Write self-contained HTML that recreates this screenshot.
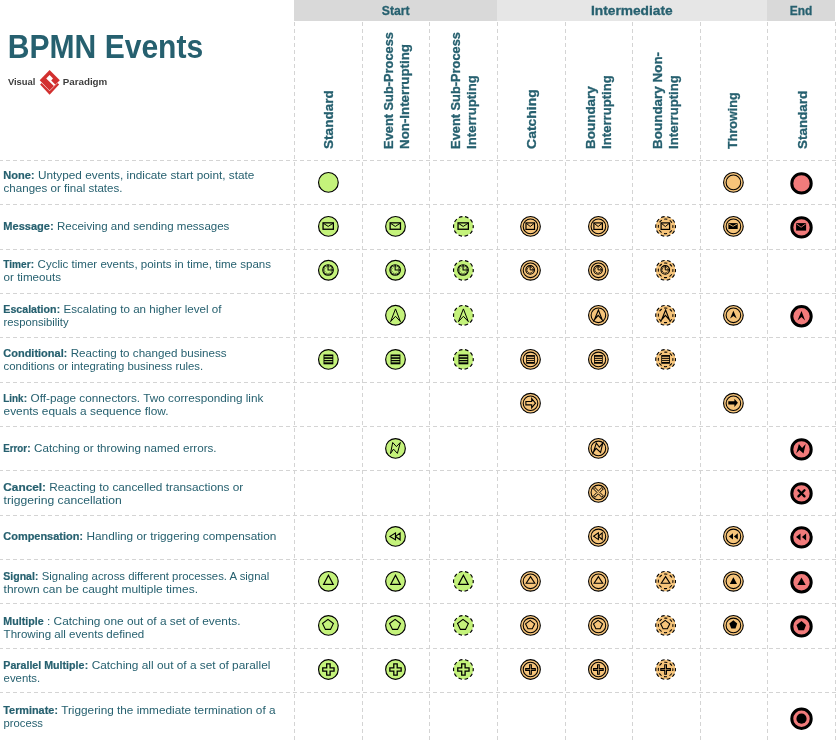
<!DOCTYPE html>
<html><head><meta charset="utf-8"><style>
html,body{margin:0;padding:0;background:#fff;}
body{width:836px;height:741px;overflow:hidden;}
svg{display:block;will-change:transform;font-family:"Liberation Sans",sans-serif;}
</style></head><body>
<svg width="836" height="741" viewBox="0 0 836 741">
<rect x="294" y="0" width="203" height="21" fill="#d9d9d9"/>
<rect x="497" y="0" width="270" height="21" fill="#e6e6e6"/>
<rect x="767" y="0" width="68" height="21" fill="#d9d9d9"/>
<line x1="294.5" y1="22" x2="294.5" y2="741" stroke="#d4d4d4" stroke-width="1" stroke-dasharray="4 3"/>
<line x1="362.5" y1="22" x2="362.5" y2="741" stroke="#d4d4d4" stroke-width="1" stroke-dasharray="4 3"/>
<line x1="429.5" y1="22" x2="429.5" y2="741" stroke="#d4d4d4" stroke-width="1" stroke-dasharray="4 3"/>
<line x1="497.5" y1="22" x2="497.5" y2="741" stroke="#d4d4d4" stroke-width="1" stroke-dasharray="4 3"/>
<line x1="565.5" y1="22" x2="565.5" y2="741" stroke="#d4d4d4" stroke-width="1" stroke-dasharray="4 3"/>
<line x1="632.5" y1="22" x2="632.5" y2="741" stroke="#d4d4d4" stroke-width="1" stroke-dasharray="4 3"/>
<line x1="700.5" y1="22" x2="700.5" y2="741" stroke="#d4d4d4" stroke-width="1" stroke-dasharray="4 3"/>
<line x1="767.5" y1="22" x2="767.5" y2="741" stroke="#d4d4d4" stroke-width="1" stroke-dasharray="4 3"/>
<line x1="835.5" y1="22" x2="835.5" y2="741" stroke="#d4d4d4" stroke-width="1" stroke-dasharray="4 3"/>
<line x1="0" y1="160.5" x2="836" y2="160.5" stroke="#d4d4d4" stroke-width="1" stroke-dasharray="4 3" stroke-dashoffset="1"/>
<line x1="0" y1="204.5" x2="836" y2="204.5" stroke="#d4d4d4" stroke-width="1" stroke-dasharray="4 3" stroke-dashoffset="1"/>
<line x1="0" y1="249.5" x2="836" y2="249.5" stroke="#d4d4d4" stroke-width="1" stroke-dasharray="4 3" stroke-dashoffset="1"/>
<line x1="0" y1="293.5" x2="836" y2="293.5" stroke="#d4d4d4" stroke-width="1" stroke-dasharray="4 3" stroke-dashoffset="1"/>
<line x1="0" y1="337.5" x2="836" y2="337.5" stroke="#d4d4d4" stroke-width="1" stroke-dasharray="4 3" stroke-dashoffset="1"/>
<line x1="0" y1="382.5" x2="836" y2="382.5" stroke="#d4d4d4" stroke-width="1" stroke-dasharray="4 3" stroke-dashoffset="1"/>
<line x1="0" y1="426.5" x2="836" y2="426.5" stroke="#d4d4d4" stroke-width="1" stroke-dasharray="4 3" stroke-dashoffset="1"/>
<line x1="0" y1="470.5" x2="836" y2="470.5" stroke="#d4d4d4" stroke-width="1" stroke-dasharray="4 3" stroke-dashoffset="1"/>
<line x1="0" y1="515.5" x2="836" y2="515.5" stroke="#d4d4d4" stroke-width="1" stroke-dasharray="4 3" stroke-dashoffset="1"/>
<line x1="0" y1="559.5" x2="836" y2="559.5" stroke="#d4d4d4" stroke-width="1" stroke-dasharray="4 3" stroke-dashoffset="1"/>
<line x1="0" y1="603.5" x2="836" y2="603.5" stroke="#d4d4d4" stroke-width="1" stroke-dasharray="4 3" stroke-dashoffset="1"/>
<line x1="0" y1="648.5" x2="836" y2="648.5" stroke="#d4d4d4" stroke-width="1" stroke-dasharray="4 3" stroke-dashoffset="1"/>
<line x1="0" y1="692.5" x2="836" y2="692.5" stroke="#d4d4d4" stroke-width="1" stroke-dasharray="4 3" stroke-dashoffset="1"/>
<text x="381.8" y="15.1" font-size="13" font-weight="bold" fill="#26606f" stroke="#26606f" stroke-width="0.3" textLength="27.8" lengthAdjust="spacingAndGlyphs">Start</text>
<text x="591.0" y="15.1" font-size="13" font-weight="bold" fill="#26606f" stroke="#26606f" stroke-width="0.3" textLength="81.7" lengthAdjust="spacingAndGlyphs">Intermediate</text>
<text x="789.8" y="15.1" font-size="13" font-weight="bold" fill="#26606f" stroke="#26606f" stroke-width="0.3" textLength="22.6" lengthAdjust="spacingAndGlyphs">End</text>
<text x="332.7" y="148.9" transform="rotate(-90 332.7 148.9)" font-size="12.4" font-weight="bold" fill="#26606f" stroke="#26606f" stroke-width="0.3" textLength="58.6" lengthAdjust="spacingAndGlyphs">Standard</text>
<text x="392.8" y="148.9" transform="rotate(-90 392.8 148.9)" font-size="12.4" font-weight="bold" fill="#26606f" stroke="#26606f" stroke-width="0.3" textLength="116.8" lengthAdjust="spacingAndGlyphs">Event Sub-Process</text>
<text x="408.7" y="148.9" transform="rotate(-90 408.7 148.9)" font-size="12.4" font-weight="bold" fill="#26606f" stroke="#26606f" stroke-width="0.3" textLength="104.9" lengthAdjust="spacingAndGlyphs">Non-Interrupting</text>
<text x="460.0" y="148.9" transform="rotate(-90 460.0 148.9)" font-size="12.4" font-weight="bold" fill="#26606f" stroke="#26606f" stroke-width="0.3" textLength="116.8" lengthAdjust="spacingAndGlyphs">Event Sub-Process</text>
<text x="475.9" y="148.9" transform="rotate(-90 475.9 148.9)" font-size="12.4" font-weight="bold" fill="#26606f" stroke="#26606f" stroke-width="0.3" textLength="73.7" lengthAdjust="spacingAndGlyphs">Interrupting</text>
<text x="535.8" y="148.9" transform="rotate(-90 535.8 148.9)" font-size="12.4" font-weight="bold" fill="#26606f" stroke="#26606f" stroke-width="0.3" textLength="59.7" lengthAdjust="spacingAndGlyphs">Catching</text>
<text x="594.6" y="148.9" transform="rotate(-90 594.6 148.9)" font-size="12.4" font-weight="bold" fill="#26606f" stroke="#26606f" stroke-width="0.3" textLength="62.7" lengthAdjust="spacingAndGlyphs">Boundary</text>
<text x="611.3" y="148.9" transform="rotate(-90 611.3 148.9)" font-size="12.4" font-weight="bold" fill="#26606f" stroke="#26606f" stroke-width="0.3" textLength="73.7" lengthAdjust="spacingAndGlyphs">Interrupting</text>
<text x="662.1" y="148.9" transform="rotate(-90 662.1 148.9)" font-size="12.4" font-weight="bold" fill="#26606f" stroke="#26606f" stroke-width="0.3" textLength="97.0" lengthAdjust="spacingAndGlyphs">Boundary Non-</text>
<text x="677.9" y="148.9" transform="rotate(-90 677.9 148.9)" font-size="12.4" font-weight="bold" fill="#26606f" stroke="#26606f" stroke-width="0.3" textLength="73.7" lengthAdjust="spacingAndGlyphs">Interrupting</text>
<text x="737.5" y="148.9" transform="rotate(-90 737.5 148.9)" font-size="12.4" font-weight="bold" fill="#26606f" stroke="#26606f" stroke-width="0.3" textLength="56.5" lengthAdjust="spacingAndGlyphs">Throwing</text>
<text x="807.2" y="148.9" transform="rotate(-90 807.2 148.9)" font-size="12.4" font-weight="bold" fill="#26606f" stroke="#26606f" stroke-width="0.3" textLength="58.0" lengthAdjust="spacingAndGlyphs">Standard</text>
<text x="7.8" y="57.7" font-size="32.6" font-weight="bold" fill="#26606f" textLength="195.4" lengthAdjust="spacingAndGlyphs">BPMN Events</text>
<text x="7.9" y="84.8" font-size="9.9" font-weight="bold" fill="#3d3d3d" textLength="27.6" lengthAdjust="spacingAndGlyphs">Visual</text>
<text x="62.7" y="84.8" font-size="9.9" font-weight="bold" fill="#3d3d3d" textLength="44.6" lengthAdjust="spacingAndGlyphs">Paradigm</text>
<g fill="#d2302f"><path d="M49.6 70.1 L59.8 80.3 L49.6 90.5 L39.7 80.3 Z"/><path d="M40.1 84.4 L41.6 82.9 L49.6 90.9 L57.6 82.9 L59.1 84.4 L49.6 94.7 Z"/></g><path d="M49.6 75.1 L53.0 78.6 L51.2 80.4 L55.2 84.6 L53.9 85.9 L46.2 78.6 Z" fill="#fff"/>
<text x="3.3" y="178.6" font-size="10.6" font-weight="bold" fill="#26606f" stroke="#26606f" stroke-width="0.2" textLength="27.6" lengthAdjust="spacingAndGlyphs">None</text>
<text x="30.8" y="178.6" font-size="10.6" fill="#26606f" textLength="223.6" lengthAdjust="spacingAndGlyphs" xml:space="preserve"><tspan font-weight="bold">:</tspan> Untyped events, indicate start point, state</text>
<text x="3.6" y="191.7" font-size="10.6" fill="#26606f" textLength="118.9" lengthAdjust="spacingAndGlyphs">changes or final states.</text>
<text x="3.3" y="229.9" font-size="10.6" font-weight="bold" fill="#26606f" stroke="#26606f" stroke-width="0.2" textLength="46.7" lengthAdjust="spacingAndGlyphs">Message</text>
<text x="49.9" y="229.9" font-size="10.6" fill="#26606f" textLength="179.5" lengthAdjust="spacingAndGlyphs" xml:space="preserve"><tspan font-weight="bold">:</tspan> Receiving and sending messages</text>
<text x="3.3" y="267.8" font-size="10.6" font-weight="bold" fill="#26606f" stroke="#26606f" stroke-width="0.2" textLength="27.3" lengthAdjust="spacingAndGlyphs">Timer</text>
<text x="30.5" y="267.8" font-size="10.6" fill="#26606f" textLength="240.5" lengthAdjust="spacingAndGlyphs" xml:space="preserve"><tspan font-weight="bold">:</tspan> Cyclic timer events, points in time, time spans</text>
<text x="3.6" y="280.9" font-size="10.6" fill="#26606f" textLength="57.4" lengthAdjust="spacingAndGlyphs">or timeouts</text>
<text x="3.3" y="312.7" font-size="10.6" font-weight="bold" fill="#26606f" stroke="#26606f" stroke-width="0.2" textLength="53.2" lengthAdjust="spacingAndGlyphs">Escalation</text>
<text x="56.4" y="312.7" font-size="10.6" fill="#26606f" textLength="165.1" lengthAdjust="spacingAndGlyphs" xml:space="preserve"><tspan font-weight="bold">:</tspan> Escalating to an higher level of</text>
<text x="3.6" y="325.8" font-size="10.6" fill="#26606f" textLength="65.0" lengthAdjust="spacingAndGlyphs">responsibility</text>
<text x="3.3" y="356.7" font-size="10.6" font-weight="bold" fill="#26606f" stroke="#26606f" stroke-width="0.2" textLength="60.4" lengthAdjust="spacingAndGlyphs">Conditional</text>
<text x="63.6" y="356.7" font-size="10.6" fill="#26606f" textLength="163.1" lengthAdjust="spacingAndGlyphs" xml:space="preserve"><tspan font-weight="bold">:</tspan> Reacting to changed business</text>
<text x="3.6" y="369.8" font-size="10.6" fill="#26606f" textLength="199.6" lengthAdjust="spacingAndGlyphs">conditions or integrating business rules.</text>
<text x="3.3" y="401.7" font-size="10.6" font-weight="bold" fill="#26606f" stroke="#26606f" stroke-width="0.2" textLength="20.2" lengthAdjust="spacingAndGlyphs">Link</text>
<text x="23.4" y="401.7" font-size="10.6" fill="#26606f" textLength="240.0" lengthAdjust="spacingAndGlyphs" xml:space="preserve"><tspan font-weight="bold">:</tspan> Off-page connectors. Two corresponding link</text>
<text x="3.6" y="414.8" font-size="10.6" fill="#26606f" textLength="164.9" lengthAdjust="spacingAndGlyphs">events equals a sequence flow.</text>
<text x="3.3" y="451.8" font-size="10.6" font-weight="bold" fill="#26606f" stroke="#26606f" stroke-width="0.2" textLength="23.8" lengthAdjust="spacingAndGlyphs">Error</text>
<text x="27.0" y="451.8" font-size="10.6" fill="#26606f" textLength="189.6" lengthAdjust="spacingAndGlyphs" xml:space="preserve"><tspan font-weight="bold">:</tspan> Catching or throwing named errors.</text>
<text x="3.3" y="490.9" font-size="10.6" font-weight="bold" fill="#26606f" stroke="#26606f" stroke-width="0.2" textLength="38.8" lengthAdjust="spacingAndGlyphs">Cancel</text>
<text x="42.0" y="490.9" font-size="10.6" fill="#26606f" textLength="201.3" lengthAdjust="spacingAndGlyphs" xml:space="preserve"><tspan font-weight="bold">:</tspan> Reacting to cancelled transactions or</text>
<text x="3.6" y="504.0" font-size="10.6" fill="#26606f" textLength="118.1" lengthAdjust="spacingAndGlyphs">triggering cancellation</text>
<text x="3.3" y="539.9" font-size="10.6" font-weight="bold" fill="#26606f" stroke="#26606f" stroke-width="0.2" textLength="76.1" lengthAdjust="spacingAndGlyphs">Compensation</text>
<text x="79.3" y="539.9" font-size="10.6" fill="#26606f" textLength="197.0" lengthAdjust="spacingAndGlyphs" xml:space="preserve"><tspan font-weight="bold">:</tspan> Handling or triggering compensation</text>
<text x="3.3" y="579.6" font-size="10.6" font-weight="bold" fill="#26606f" stroke="#26606f" stroke-width="0.2" textLength="31.6" lengthAdjust="spacingAndGlyphs">Signal</text>
<text x="34.8" y="579.6" font-size="10.6" fill="#26606f" textLength="234.5" lengthAdjust="spacingAndGlyphs" xml:space="preserve"><tspan font-weight="bold">:</tspan> Signaling across different processes. A signal</text>
<text x="3.6" y="592.7" font-size="10.6" fill="#26606f" textLength="194.4" lengthAdjust="spacingAndGlyphs">thrown can be caught multiple times.</text>
<text x="3.3" y="624.5" font-size="10.6" font-weight="bold" fill="#26606f" stroke="#26606f" stroke-width="0.2" textLength="40.3" lengthAdjust="spacingAndGlyphs">Multiple</text>
<text x="43.7" y="624.5" font-size="10.6" fill="#26606f" textLength="196.8" lengthAdjust="spacingAndGlyphs" xml:space="preserve"> : Catching one out of a set of events.</text>
<text x="3.6" y="637.6" font-size="10.6" fill="#26606f" textLength="140.7" lengthAdjust="spacingAndGlyphs">Throwing all events defined</text>
<text x="3.3" y="668.6" font-size="10.6" font-weight="bold" fill="#26606f" stroke="#26606f" stroke-width="0.2" textLength="81.2" lengthAdjust="spacingAndGlyphs">Parallel Multiple</text>
<text x="84.4" y="668.6" font-size="10.6" fill="#26606f" textLength="186.0" lengthAdjust="spacingAndGlyphs" xml:space="preserve"><tspan font-weight="bold">:</tspan> Catching all out of a set of parallel</text>
<text x="3.6" y="681.7" font-size="10.6" fill="#26606f" textLength="36.6" lengthAdjust="spacingAndGlyphs">events.</text>
<text x="3.3" y="713.7" font-size="10.6" font-weight="bold" fill="#26606f" stroke="#26606f" stroke-width="0.2" textLength="51.0" lengthAdjust="spacingAndGlyphs">Terminate</text>
<text x="54.2" y="713.7" font-size="10.6" fill="#26606f" textLength="221.3" lengthAdjust="spacingAndGlyphs" xml:space="preserve"><tspan font-weight="bold">:</tspan> Triggering the immediate termination of a</text>
<text x="3.6" y="726.8" font-size="10.6" fill="#26606f" textLength="39.4" lengthAdjust="spacingAndGlyphs">process</text>
<circle cx="328.4" cy="182.4" r="9.85" fill="#c4f27b" stroke="#000" stroke-width="1.15"/>

<circle cx="733.4" cy="182.4" r="9.85" fill="#f6c47a" stroke="#000" stroke-width="1.1"/><circle cx="733.4" cy="182.4" r="7.3" fill="none" stroke="#000" stroke-width="1.05"/>

<circle cx="801.5" cy="183.4" r="9.7" fill="#f27b7b" stroke="#000" stroke-width="3"/>

<circle cx="328.4" cy="226.4" r="9.85" fill="#c4f27b" stroke="#000" stroke-width="1.15"/>
<rect x="323.05" y="222.85" width="10.30" height="6.40" fill="none" stroke="#000" stroke-width="1.3"/><polyline points="323.40,223.30 328.20,226.44 333.00,223.30" fill="none" stroke="#000" stroke-width="1"/>
<circle cx="395.5" cy="226.4" r="9.85" fill="#c4f27b" stroke="#000" stroke-width="1.15"/>
<rect x="390.15" y="222.85" width="10.30" height="6.40" fill="none" stroke="#000" stroke-width="1.3"/><polyline points="390.50,223.30 395.30,226.44 400.10,223.30" fill="none" stroke="#000" stroke-width="1"/>
<circle cx="463.4" cy="226.4" r="9.85" fill="#c4f27b" stroke="#000" stroke-width="1.15" stroke-dasharray="3.6 2.59" stroke-dashoffset="1.8"/>
<rect x="458.05" y="222.85" width="10.30" height="6.40" fill="none" stroke="#000" stroke-width="1.3"/><polyline points="458.40,223.30 463.20,226.44 468.00,223.30" fill="none" stroke="#000" stroke-width="1"/>
<circle cx="530.5" cy="226.4" r="9.85" fill="#f6c47a" stroke="#000" stroke-width="1.1"/><circle cx="530.5" cy="226.4" r="7.3" fill="none" stroke="#000" stroke-width="1.05"/>
<rect x="526.00" y="222.90" width="8.50" height="6.50" fill="none" stroke="#000" stroke-width="1.2"/><polyline points="526.40,223.40 530.25,226.53 534.10,223.40" fill="none" stroke="#000" stroke-width="1"/>
<circle cx="598.4" cy="226.4" r="9.85" fill="#f6c47a" stroke="#000" stroke-width="1.1"/><circle cx="598.4" cy="226.4" r="7.3" fill="none" stroke="#000" stroke-width="1.05"/>
<rect x="593.90" y="222.90" width="8.50" height="6.50" fill="none" stroke="#000" stroke-width="1.2"/><polyline points="594.30,223.40 598.15,226.53 602.00,223.40" fill="none" stroke="#000" stroke-width="1"/>
<circle cx="665.6" cy="226.4" r="9.85" fill="#f6c47a" stroke="#000" stroke-width="1.1" stroke-dasharray="3.6 2.59" stroke-dashoffset="1.8"/><circle cx="665.6" cy="226.4" r="7.3" fill="none" stroke="#000" stroke-width="1.05" stroke-dasharray="3.1 2.63" stroke-dashoffset="1.55"/>
<rect x="661.10" y="222.90" width="8.50" height="6.50" fill="none" stroke="#000" stroke-width="1.2"/><polyline points="661.50,223.40 665.35,226.53 669.20,223.40" fill="none" stroke="#000" stroke-width="1"/>
<circle cx="733.4" cy="226.4" r="9.85" fill="#f6c47a" stroke="#000" stroke-width="1.1"/><circle cx="733.4" cy="226.4" r="7.3" fill="none" stroke="#000" stroke-width="1.05"/>
<rect x="728.40" y="223.10" width="9.30" height="5.90" fill="#000"/><polyline points="728.70,223.90 733.05,226.34 737.40,223.90" fill="none" stroke="#f6c47a" stroke-width="0.85"/>
<circle cx="801.5" cy="227.4" r="9.7" fill="#f27b7b" stroke="#000" stroke-width="3"/>
<rect x="796.10" y="223.10" width="10.00" height="7.50" fill="#000"/><polyline points="796.40,223.90 801.10,227.22 805.80,223.90" fill="none" stroke="#f27b7b" stroke-width="0.85"/>
<circle cx="328.4" cy="270.3" r="9.85" fill="#c4f27b" stroke="#000" stroke-width="1.15"/>
<circle cx="328.04999999999995" cy="270.0" r="5.27" fill="none" stroke="#000" stroke-width="1.15"/><line x1="331.25" y1="270.00" x2="333.05" y2="270.00" stroke="#000" stroke-width="0.85"/><line x1="330.82" y1="271.60" x2="332.38" y2="272.50" stroke="#000" stroke-width="0.85"/><line x1="329.65" y1="272.77" x2="330.55" y2="274.33" stroke="#000" stroke-width="0.85"/><line x1="328.05" y1="273.20" x2="328.05" y2="275.00" stroke="#000" stroke-width="0.85"/><line x1="326.45" y1="272.77" x2="325.55" y2="274.33" stroke="#000" stroke-width="0.85"/><line x1="325.28" y1="271.60" x2="323.72" y2="272.50" stroke="#000" stroke-width="0.85"/><line x1="324.85" y1="270.00" x2="323.05" y2="270.00" stroke="#000" stroke-width="0.85"/><line x1="325.28" y1="268.40" x2="323.72" y2="267.50" stroke="#000" stroke-width="0.85"/><line x1="326.45" y1="267.23" x2="325.55" y2="265.67" stroke="#000" stroke-width="0.85"/><line x1="328.05" y1="266.80" x2="328.05" y2="265.00" stroke="#000" stroke-width="0.85"/><line x1="329.65" y1="267.23" x2="330.55" y2="265.67" stroke="#000" stroke-width="0.85"/><line x1="330.82" y1="268.40" x2="332.38" y2="267.50" stroke="#000" stroke-width="0.85"/><polyline points="328.05,265.10 328.05,270.00 332.95,270.00" fill="none" stroke="#000" stroke-width="1.05"/>
<circle cx="395.5" cy="270.3" r="9.85" fill="#c4f27b" stroke="#000" stroke-width="1.15"/>
<circle cx="395.15" cy="270.0" r="5.27" fill="none" stroke="#000" stroke-width="1.15"/><line x1="398.35" y1="270.00" x2="400.15" y2="270.00" stroke="#000" stroke-width="0.85"/><line x1="397.92" y1="271.60" x2="399.48" y2="272.50" stroke="#000" stroke-width="0.85"/><line x1="396.75" y1="272.77" x2="397.65" y2="274.33" stroke="#000" stroke-width="0.85"/><line x1="395.15" y1="273.20" x2="395.15" y2="275.00" stroke="#000" stroke-width="0.85"/><line x1="393.55" y1="272.77" x2="392.65" y2="274.33" stroke="#000" stroke-width="0.85"/><line x1="392.38" y1="271.60" x2="390.82" y2="272.50" stroke="#000" stroke-width="0.85"/><line x1="391.95" y1="270.00" x2="390.15" y2="270.00" stroke="#000" stroke-width="0.85"/><line x1="392.38" y1="268.40" x2="390.82" y2="267.50" stroke="#000" stroke-width="0.85"/><line x1="393.55" y1="267.23" x2="392.65" y2="265.67" stroke="#000" stroke-width="0.85"/><line x1="395.15" y1="266.80" x2="395.15" y2="265.00" stroke="#000" stroke-width="0.85"/><line x1="396.75" y1="267.23" x2="397.65" y2="265.67" stroke="#000" stroke-width="0.85"/><line x1="397.92" y1="268.40" x2="399.48" y2="267.50" stroke="#000" stroke-width="0.85"/><polyline points="395.15,265.10 395.15,270.00 400.05,270.00" fill="none" stroke="#000" stroke-width="1.05"/>
<circle cx="463.4" cy="270.3" r="9.85" fill="#c4f27b" stroke="#000" stroke-width="1.15" stroke-dasharray="3.6 2.59" stroke-dashoffset="1.8"/>
<circle cx="463.04999999999995" cy="270.0" r="5.27" fill="none" stroke="#000" stroke-width="1.15"/><line x1="466.25" y1="270.00" x2="468.05" y2="270.00" stroke="#000" stroke-width="0.85"/><line x1="465.82" y1="271.60" x2="467.38" y2="272.50" stroke="#000" stroke-width="0.85"/><line x1="464.65" y1="272.77" x2="465.55" y2="274.33" stroke="#000" stroke-width="0.85"/><line x1="463.05" y1="273.20" x2="463.05" y2="275.00" stroke="#000" stroke-width="0.85"/><line x1="461.45" y1="272.77" x2="460.55" y2="274.33" stroke="#000" stroke-width="0.85"/><line x1="460.28" y1="271.60" x2="458.72" y2="272.50" stroke="#000" stroke-width="0.85"/><line x1="459.85" y1="270.00" x2="458.05" y2="270.00" stroke="#000" stroke-width="0.85"/><line x1="460.28" y1="268.40" x2="458.72" y2="267.50" stroke="#000" stroke-width="0.85"/><line x1="461.45" y1="267.23" x2="460.55" y2="265.67" stroke="#000" stroke-width="0.85"/><line x1="463.05" y1="266.80" x2="463.05" y2="265.00" stroke="#000" stroke-width="0.85"/><line x1="464.65" y1="267.23" x2="465.55" y2="265.67" stroke="#000" stroke-width="0.85"/><line x1="465.82" y1="268.40" x2="467.38" y2="267.50" stroke="#000" stroke-width="0.85"/><polyline points="463.05,265.10 463.05,270.00 467.95,270.00" fill="none" stroke="#000" stroke-width="1.05"/>
<circle cx="530.5" cy="270.3" r="9.85" fill="#f6c47a" stroke="#000" stroke-width="1.1"/><circle cx="530.5" cy="270.3" r="7.3" fill="none" stroke="#000" stroke-width="1.05"/>
<circle cx="530.15" cy="269.90000000000003" r="4.30" fill="none" stroke="#000" stroke-width="1.1"/><line x1="532.65" y1="269.90" x2="534.20" y2="269.90" stroke="#000" stroke-width="0.8"/><line x1="532.32" y1="271.15" x2="533.66" y2="271.93" stroke="#000" stroke-width="0.8"/><line x1="531.40" y1="272.07" x2="532.17" y2="273.41" stroke="#000" stroke-width="0.8"/><line x1="530.15" y1="272.40" x2="530.15" y2="273.95" stroke="#000" stroke-width="0.8"/><line x1="528.90" y1="272.07" x2="528.12" y2="273.41" stroke="#000" stroke-width="0.8"/><line x1="527.98" y1="271.15" x2="526.64" y2="271.93" stroke="#000" stroke-width="0.8"/><line x1="527.65" y1="269.90" x2="526.10" y2="269.90" stroke="#000" stroke-width="0.8"/><line x1="527.98" y1="268.65" x2="526.64" y2="267.88" stroke="#000" stroke-width="0.8"/><line x1="528.90" y1="267.73" x2="528.12" y2="266.39" stroke="#000" stroke-width="0.8"/><line x1="530.15" y1="267.40" x2="530.15" y2="265.85" stroke="#000" stroke-width="0.8"/><line x1="531.40" y1="267.73" x2="532.17" y2="266.39" stroke="#000" stroke-width="0.8"/><line x1="532.32" y1="268.65" x2="533.66" y2="267.88" stroke="#000" stroke-width="0.8"/><polyline points="530.15,265.95 530.15,269.90 534.10,269.90" fill="none" stroke="#000" stroke-width="1.0"/>
<circle cx="598.4" cy="270.3" r="9.85" fill="#f6c47a" stroke="#000" stroke-width="1.1"/><circle cx="598.4" cy="270.3" r="7.3" fill="none" stroke="#000" stroke-width="1.05"/>
<circle cx="598.05" cy="269.90000000000003" r="4.30" fill="none" stroke="#000" stroke-width="1.1"/><line x1="600.55" y1="269.90" x2="602.10" y2="269.90" stroke="#000" stroke-width="0.8"/><line x1="600.22" y1="271.15" x2="601.56" y2="271.93" stroke="#000" stroke-width="0.8"/><line x1="599.30" y1="272.07" x2="600.07" y2="273.41" stroke="#000" stroke-width="0.8"/><line x1="598.05" y1="272.40" x2="598.05" y2="273.95" stroke="#000" stroke-width="0.8"/><line x1="596.80" y1="272.07" x2="596.02" y2="273.41" stroke="#000" stroke-width="0.8"/><line x1="595.88" y1="271.15" x2="594.54" y2="271.93" stroke="#000" stroke-width="0.8"/><line x1="595.55" y1="269.90" x2="594.00" y2="269.90" stroke="#000" stroke-width="0.8"/><line x1="595.88" y1="268.65" x2="594.54" y2="267.88" stroke="#000" stroke-width="0.8"/><line x1="596.80" y1="267.73" x2="596.02" y2="266.39" stroke="#000" stroke-width="0.8"/><line x1="598.05" y1="267.40" x2="598.05" y2="265.85" stroke="#000" stroke-width="0.8"/><line x1="599.30" y1="267.73" x2="600.07" y2="266.39" stroke="#000" stroke-width="0.8"/><line x1="600.22" y1="268.65" x2="601.56" y2="267.88" stroke="#000" stroke-width="0.8"/><polyline points="598.05,265.95 598.05,269.90 602.00,269.90" fill="none" stroke="#000" stroke-width="1.0"/>
<circle cx="665.6" cy="270.3" r="9.85" fill="#f6c47a" stroke="#000" stroke-width="1.1" stroke-dasharray="3.6 2.59" stroke-dashoffset="1.8"/><circle cx="665.6" cy="270.3" r="7.3" fill="none" stroke="#000" stroke-width="1.05" stroke-dasharray="3.1 2.63" stroke-dashoffset="1.55"/>
<circle cx="665.25" cy="269.90000000000003" r="4.30" fill="none" stroke="#000" stroke-width="1.1"/><line x1="667.75" y1="269.90" x2="669.30" y2="269.90" stroke="#000" stroke-width="0.8"/><line x1="667.42" y1="271.15" x2="668.76" y2="271.93" stroke="#000" stroke-width="0.8"/><line x1="666.50" y1="272.07" x2="667.27" y2="273.41" stroke="#000" stroke-width="0.8"/><line x1="665.25" y1="272.40" x2="665.25" y2="273.95" stroke="#000" stroke-width="0.8"/><line x1="664.00" y1="272.07" x2="663.23" y2="273.41" stroke="#000" stroke-width="0.8"/><line x1="663.08" y1="271.15" x2="661.74" y2="271.93" stroke="#000" stroke-width="0.8"/><line x1="662.75" y1="269.90" x2="661.20" y2="269.90" stroke="#000" stroke-width="0.8"/><line x1="663.08" y1="268.65" x2="661.74" y2="267.88" stroke="#000" stroke-width="0.8"/><line x1="664.00" y1="267.73" x2="663.23" y2="266.39" stroke="#000" stroke-width="0.8"/><line x1="665.25" y1="267.40" x2="665.25" y2="265.85" stroke="#000" stroke-width="0.8"/><line x1="666.50" y1="267.73" x2="667.27" y2="266.39" stroke="#000" stroke-width="0.8"/><line x1="667.42" y1="268.65" x2="668.76" y2="267.88" stroke="#000" stroke-width="0.8"/><polyline points="665.25,265.95 665.25,269.90 669.20,269.90" fill="none" stroke="#000" stroke-width="1.0"/>
<circle cx="395.5" cy="315.3" r="9.85" fill="#c4f27b" stroke="#000" stroke-width="1.15"/>
<polygon points="395.50,308.90 400.40,321.60 395.50,316.30 390.60,321.60" fill="none" stroke="#000" stroke-width="1.0" stroke-linejoin="miter" stroke-miterlimit="8"/>
<circle cx="463.4" cy="315.3" r="9.85" fill="#c4f27b" stroke="#000" stroke-width="1.15" stroke-dasharray="3.6 2.59" stroke-dashoffset="1.8"/>
<polygon points="463.40,308.90 468.30,321.60 463.40,316.30 458.50,321.60" fill="none" stroke="#000" stroke-width="1.0" stroke-linejoin="miter" stroke-miterlimit="8"/>
<circle cx="598.4" cy="315.3" r="9.85" fill="#f6c47a" stroke="#000" stroke-width="1.1"/><circle cx="598.4" cy="315.3" r="7.3" fill="none" stroke="#000" stroke-width="1.05"/>
<polygon points="598.40,310.00 602.20,319.90 598.20,315.30 594.40,319.70" fill="none" stroke="#000" stroke-width="1.1" stroke-linejoin="miter" stroke-miterlimit="8"/>
<circle cx="665.6" cy="315.3" r="9.85" fill="#f6c47a" stroke="#000" stroke-width="1.1" stroke-dasharray="3.6 2.59" stroke-dashoffset="1.8"/><circle cx="665.6" cy="315.3" r="7.3" fill="none" stroke="#000" stroke-width="1.05" stroke-dasharray="3.1 2.63" stroke-dashoffset="1.55"/>
<polygon points="665.60,310.00 669.40,319.90 665.40,315.30 661.60,319.70" fill="none" stroke="#000" stroke-width="1.1" stroke-linejoin="miter" stroke-miterlimit="8"/>
<circle cx="733.4" cy="315.3" r="9.85" fill="#f6c47a" stroke="#000" stroke-width="1.1"/><circle cx="733.4" cy="315.3" r="7.3" fill="none" stroke="#000" stroke-width="1.05"/>
<polygon points="733.40,310.80 736.70,318.60 733.40,316.10 730.10,318.60" fill="#000"/>
<circle cx="801.5" cy="316.3" r="9.7" fill="#f27b7b" stroke="#000" stroke-width="3"/>
<polygon points="801.50,311.00 805.10,320.60 801.50,316.90 797.50,320.60" fill="#000"/>
<circle cx="328.4" cy="359.4" r="9.85" fill="#c4f27b" stroke="#000" stroke-width="1.15"/>
<rect x="323.50" y="354.50" width="9.80" height="9.80" fill="#000"/><rect x="324.40" y="356.15" width="8.00" height="1.1" fill="#c4f27b"/><rect x="324.40" y="358.85" width="8.00" height="1.1" fill="#c4f27b"/><rect x="324.40" y="361.25" width="8.00" height="1.1" fill="#c4f27b"/>
<circle cx="395.5" cy="359.4" r="9.85" fill="#c4f27b" stroke="#000" stroke-width="1.15"/>
<rect x="390.60" y="354.50" width="9.80" height="9.80" fill="#000"/><rect x="391.50" y="356.15" width="8.00" height="1.1" fill="#c4f27b"/><rect x="391.50" y="358.85" width="8.00" height="1.1" fill="#c4f27b"/><rect x="391.50" y="361.25" width="8.00" height="1.1" fill="#c4f27b"/>
<circle cx="463.4" cy="359.4" r="9.85" fill="#c4f27b" stroke="#000" stroke-width="1.15" stroke-dasharray="3.6 2.59" stroke-dashoffset="1.8"/>
<rect x="458.50" y="354.50" width="9.80" height="9.80" fill="#000"/><rect x="459.40" y="356.15" width="8.00" height="1.1" fill="#c4f27b"/><rect x="459.40" y="358.85" width="8.00" height="1.1" fill="#c4f27b"/><rect x="459.40" y="361.25" width="8.00" height="1.1" fill="#c4f27b"/>
<circle cx="530.5" cy="359.4" r="9.85" fill="#f6c47a" stroke="#000" stroke-width="1.1"/><circle cx="530.5" cy="359.4" r="7.3" fill="none" stroke="#000" stroke-width="1.05"/>
<rect x="526.15" y="355.05" width="8.70" height="8.70" fill="#000"/><rect x="526.95" y="356.75" width="7.10" height="1.1" fill="#f6c47a"/><rect x="526.95" y="358.85" width="7.10" height="1.1" fill="#f6c47a"/><rect x="526.95" y="360.85" width="7.10" height="1.1" fill="#f6c47a"/>
<circle cx="598.4" cy="359.4" r="9.85" fill="#f6c47a" stroke="#000" stroke-width="1.1"/><circle cx="598.4" cy="359.4" r="7.3" fill="none" stroke="#000" stroke-width="1.05"/>
<rect x="594.05" y="355.05" width="8.70" height="8.70" fill="#000"/><rect x="594.85" y="356.75" width="7.10" height="1.1" fill="#f6c47a"/><rect x="594.85" y="358.85" width="7.10" height="1.1" fill="#f6c47a"/><rect x="594.85" y="360.85" width="7.10" height="1.1" fill="#f6c47a"/>
<circle cx="665.6" cy="359.4" r="9.85" fill="#f6c47a" stroke="#000" stroke-width="1.1" stroke-dasharray="3.6 2.59" stroke-dashoffset="1.8"/><circle cx="665.6" cy="359.4" r="7.3" fill="none" stroke="#000" stroke-width="1.05" stroke-dasharray="3.1 2.63" stroke-dashoffset="1.55"/>
<rect x="661.25" y="355.05" width="8.70" height="8.70" fill="#000"/><rect x="662.05" y="356.75" width="7.10" height="1.1" fill="#f6c47a"/><rect x="662.05" y="358.85" width="7.10" height="1.1" fill="#f6c47a"/><rect x="662.05" y="360.85" width="7.10" height="1.1" fill="#f6c47a"/>
<circle cx="530.5" cy="403.2" r="9.85" fill="#f6c47a" stroke="#000" stroke-width="1.1"/><circle cx="530.5" cy="403.2" r="7.3" fill="none" stroke="#000" stroke-width="1.05"/>
<polygon points="525.90,401.50 531.70,401.50 531.70,398.60 535.50,403.20 531.70,407.80 531.70,404.90 525.90,404.90" fill="none" stroke="#000" stroke-width="1.1" stroke-linejoin="miter" stroke-miterlimit="8"/>
<circle cx="733.4" cy="403.2" r="9.85" fill="#f6c47a" stroke="#000" stroke-width="1.1"/><circle cx="733.4" cy="403.2" r="7.3" fill="none" stroke="#000" stroke-width="1.05"/>
<polygon points="728.30,401.20 734.40,401.20 734.40,398.70 737.90,402.80 734.40,406.90 734.40,404.40 728.30,404.40" fill="#000"/>
<circle cx="395.5" cy="448.4" r="9.85" fill="#c4f27b" stroke="#000" stroke-width="1.15"/>
<polygon points="392.70,442.50 396.40,446.60 400.30,442.50 397.40,453.40 393.50,449.10 390.50,453.60" fill="none" stroke="#000" stroke-width="1.0" stroke-linejoin="miter" stroke-miterlimit="8"/>
<circle cx="598.4" cy="448.4" r="9.85" fill="#f6c47a" stroke="#000" stroke-width="1.1"/><circle cx="598.4" cy="448.4" r="7.3" fill="none" stroke="#000" stroke-width="1.05"/>
<polygon points="596.30,443.10 599.40,447.20 602.80,442.90 600.60,452.40 596.10,448.40 593.30,452.40" fill="none" stroke="#000" stroke-width="1.05" stroke-linejoin="miter" stroke-miterlimit="8"/>
<circle cx="801.5" cy="449.4" r="9.7" fill="#f27b7b" stroke="#000" stroke-width="3"/>
<polygon points="798.90,444.10 802.10,448.00 805.70,443.90 803.50,453.60 799.50,450.00 796.20,453.40" fill="#000"/>
<circle cx="598.4" cy="492.4" r="9.85" fill="#f6c47a" stroke="#000" stroke-width="1.1"/><circle cx="598.4" cy="492.4" r="7.3" fill="none" stroke="#000" stroke-width="1.05"/>
<polygon points="594.95,487.50 598.40,490.95 601.85,487.50 603.30,488.95 599.85,492.40 603.30,495.85 601.85,497.30 598.40,493.85 594.95,497.30 593.50,495.85 596.95,492.40 593.50,488.95" fill="none" stroke="#000" stroke-width="1.0" stroke-linejoin="miter" stroke-miterlimit="8"/>
<circle cx="801.5" cy="493.4" r="9.7" fill="#f27b7b" stroke="#000" stroke-width="3"/>
<path d="M798.40 490.30 L804.50 496.40 M804.50 490.30 L798.40 496.40" stroke="#000" stroke-width="2.3" stroke-linecap="round"/>
<circle cx="395.5" cy="536.4" r="9.85" fill="#c4f27b" stroke="#000" stroke-width="1.15"/>
<polygon points="389.90,536.40 395.50,533.00 395.50,539.80" fill="none" stroke="#000" stroke-width="1.1" stroke-linejoin="miter" stroke-miterlimit="8"/><polygon points="395.50,536.40 400.10,533.00 400.10,539.80" fill="none" stroke="#000" stroke-width="1.1" stroke-linejoin="miter" stroke-miterlimit="8"/>
<circle cx="598.4" cy="536.4" r="9.85" fill="#f6c47a" stroke="#000" stroke-width="1.1"/><circle cx="598.4" cy="536.4" r="7.3" fill="none" stroke="#000" stroke-width="1.05"/>
<polygon points="593.60,536.20 598.40,532.80 598.40,539.60" fill="none" stroke="#000" stroke-width="1.05" stroke-linejoin="miter" stroke-miterlimit="8"/><polygon points="598.40,536.20 602.20,532.80 602.20,539.60" fill="none" stroke="#000" stroke-width="1.05" stroke-linejoin="miter" stroke-miterlimit="8"/>
<circle cx="733.4" cy="536.4" r="9.85" fill="#f6c47a" stroke="#000" stroke-width="1.1"/><circle cx="733.4" cy="536.4" r="7.3" fill="none" stroke="#000" stroke-width="1.05"/>
<polygon points="728.90,536.40 733.00,533.30 733.00,539.50" fill="#000"/><polygon points="733.90,536.40 737.80,533.30 737.80,539.50" fill="#000"/>
<circle cx="801.5" cy="537.4" r="9.7" fill="#f27b7b" stroke="#000" stroke-width="3"/>
<polygon points="796.00,537.00 800.50,533.50 800.50,540.60" fill="#000"/><polygon points="801.90,537.00 806.10,533.50 806.10,540.60" fill="#000"/>
<circle cx="328.4" cy="581.3" r="9.85" fill="#c4f27b" stroke="#000" stroke-width="1.15"/>
<polygon points="328.40,575.20 333.20,584.40 323.60,584.40" fill="none" stroke="#000" stroke-width="1.2" stroke-linejoin="miter" stroke-miterlimit="8"/>
<circle cx="395.5" cy="581.3" r="9.85" fill="#c4f27b" stroke="#000" stroke-width="1.15"/>
<polygon points="395.50,575.20 400.30,584.40 390.70,584.40" fill="none" stroke="#000" stroke-width="1.2" stroke-linejoin="miter" stroke-miterlimit="8"/>
<circle cx="463.4" cy="581.3" r="9.85" fill="#c4f27b" stroke="#000" stroke-width="1.15" stroke-dasharray="3.6 2.59" stroke-dashoffset="1.8"/>
<polygon points="463.40,575.20 468.20,584.40 458.60,584.40" fill="none" stroke="#000" stroke-width="1.2" stroke-linejoin="miter" stroke-miterlimit="8"/>
<circle cx="530.5" cy="581.3" r="9.85" fill="#f6c47a" stroke="#000" stroke-width="1.1"/><circle cx="530.5" cy="581.3" r="7.3" fill="none" stroke="#000" stroke-width="1.05"/>
<polygon points="530.50,576.60 534.80,583.30 526.20,583.30" fill="none" stroke="#000" stroke-width="1.1" stroke-linejoin="miter" stroke-miterlimit="8"/>
<circle cx="598.4" cy="581.3" r="9.85" fill="#f6c47a" stroke="#000" stroke-width="1.1"/><circle cx="598.4" cy="581.3" r="7.3" fill="none" stroke="#000" stroke-width="1.05"/>
<polygon points="598.40,576.60 602.70,583.30 594.10,583.30" fill="none" stroke="#000" stroke-width="1.1" stroke-linejoin="miter" stroke-miterlimit="8"/>
<circle cx="665.6" cy="581.3" r="9.85" fill="#f6c47a" stroke="#000" stroke-width="1.1" stroke-dasharray="3.6 2.59" stroke-dashoffset="1.8"/><circle cx="665.6" cy="581.3" r="7.3" fill="none" stroke="#000" stroke-width="1.05" stroke-dasharray="3.1 2.63" stroke-dashoffset="1.55"/>
<polygon points="665.60,576.60 669.90,583.30 661.30,583.30" fill="none" stroke="#000" stroke-width="1.1" stroke-linejoin="miter" stroke-miterlimit="8"/>
<circle cx="733.4" cy="581.3" r="9.85" fill="#f6c47a" stroke="#000" stroke-width="1.1"/><circle cx="733.4" cy="581.3" r="7.3" fill="none" stroke="#000" stroke-width="1.05"/>
<polygon points="733.40,577.20 737.00,584.00 729.80,584.00" fill="#000"/>
<circle cx="801.5" cy="582.3" r="9.7" fill="#f27b7b" stroke="#000" stroke-width="3"/>
<polygon points="801.50,577.60 805.70,585.10 797.30,585.10" fill="#000"/>
<circle cx="328.4" cy="625.4" r="9.85" fill="#c4f27b" stroke="#000" stroke-width="1.15"/>
<polygon points="328.00,619.40 333.40,623.50 330.50,629.40 325.40,629.40 322.50,623.50" fill="none" stroke="#000" stroke-width="1.1" stroke-linejoin="miter" stroke-miterlimit="8"/>
<circle cx="395.5" cy="625.4" r="9.85" fill="#c4f27b" stroke="#000" stroke-width="1.15"/>
<polygon points="395.10,619.40 400.50,623.50 397.60,629.40 392.50,629.40 389.60,623.50" fill="none" stroke="#000" stroke-width="1.1" stroke-linejoin="miter" stroke-miterlimit="8"/>
<circle cx="463.4" cy="625.4" r="9.85" fill="#c4f27b" stroke="#000" stroke-width="1.15" stroke-dasharray="3.6 2.59" stroke-dashoffset="1.8"/>
<polygon points="463.00,619.40 468.40,623.50 465.50,629.40 460.40,629.40 457.50,623.50" fill="none" stroke="#000" stroke-width="1.1" stroke-linejoin="miter" stroke-miterlimit="8"/>
<circle cx="530.5" cy="625.4" r="9.85" fill="#f6c47a" stroke="#000" stroke-width="1.1"/><circle cx="530.5" cy="625.4" r="7.3" fill="none" stroke="#000" stroke-width="1.05"/>
<polygon points="530.16,620.36 534.70,623.80 532.26,628.76 527.98,628.76 525.54,623.80" fill="none" stroke="#000" stroke-width="1.05" stroke-linejoin="miter" stroke-miterlimit="8"/>
<circle cx="598.4" cy="625.4" r="9.85" fill="#f6c47a" stroke="#000" stroke-width="1.1"/><circle cx="598.4" cy="625.4" r="7.3" fill="none" stroke="#000" stroke-width="1.05"/>
<polygon points="598.06,620.36 602.60,623.80 600.16,628.76 595.88,628.76 593.44,623.80" fill="none" stroke="#000" stroke-width="1.05" stroke-linejoin="miter" stroke-miterlimit="8"/>
<circle cx="665.6" cy="625.4" r="9.85" fill="#f6c47a" stroke="#000" stroke-width="1.1" stroke-dasharray="3.6 2.59" stroke-dashoffset="1.8"/><circle cx="665.6" cy="625.4" r="7.3" fill="none" stroke="#000" stroke-width="1.05" stroke-dasharray="3.1 2.63" stroke-dashoffset="1.55"/>
<polygon points="665.26,620.36 669.80,623.80 667.36,628.76 663.08,628.76 660.64,623.80" fill="none" stroke="#000" stroke-width="1.05" stroke-linejoin="miter" stroke-miterlimit="8"/>
<circle cx="733.4" cy="625.4" r="9.85" fill="#f6c47a" stroke="#000" stroke-width="1.1"/><circle cx="733.4" cy="625.4" r="7.3" fill="none" stroke="#000" stroke-width="1.05"/>
<polygon points="733.40,620.20 737.20,623.60 735.50,628.60 731.30,628.60 729.30,623.60" fill="#000"/>
<circle cx="801.5" cy="626.4" r="9.7" fill="#f27b7b" stroke="#000" stroke-width="3"/>
<polygon points="801.50,621.10 806.00,624.90 804.00,630.30 798.50,630.30 796.50,624.90" fill="#000"/>
<circle cx="328.4" cy="669.5" r="9.85" fill="#c4f27b" stroke="#000" stroke-width="1.15"/>
<polygon points="326.70,663.85 330.10,663.85 330.10,667.80 334.05,667.80 334.05,671.20 330.10,671.20 330.10,675.15 326.70,675.15 326.70,671.20 322.75,671.20 322.75,667.80 326.70,667.80" fill="none" stroke="#000" stroke-width="1.3" stroke-linejoin="miter" stroke-miterlimit="8"/>
<circle cx="395.5" cy="669.5" r="9.85" fill="#c4f27b" stroke="#000" stroke-width="1.15"/>
<polygon points="393.80,663.85 397.20,663.85 397.20,667.80 401.15,667.80 401.15,671.20 397.20,671.20 397.20,675.15 393.80,675.15 393.80,671.20 389.85,671.20 389.85,667.80 393.80,667.80" fill="none" stroke="#000" stroke-width="1.3" stroke-linejoin="miter" stroke-miterlimit="8"/>
<circle cx="463.4" cy="669.5" r="9.85" fill="#c4f27b" stroke="#000" stroke-width="1.15" stroke-dasharray="3.6 2.59" stroke-dashoffset="1.8"/>
<polygon points="461.70,663.85 465.10,663.85 465.10,667.80 469.05,667.80 469.05,671.20 465.10,671.20 465.10,675.15 461.70,675.15 461.70,671.20 457.75,671.20 457.75,667.80 461.70,667.80" fill="none" stroke="#000" stroke-width="1.3" stroke-linejoin="miter" stroke-miterlimit="8"/>
<circle cx="530.5" cy="669.5" r="9.85" fill="#f6c47a" stroke="#000" stroke-width="1.1"/><circle cx="530.5" cy="669.5" r="7.3" fill="none" stroke="#000" stroke-width="1.05"/>
<polygon points="529.65,664.70 531.35,664.70 531.35,668.65 535.30,668.65 535.30,670.35 531.35,670.35 531.35,674.30 529.65,674.30 529.65,670.35 525.70,670.35 525.70,668.65 529.65,668.65" fill="none" stroke="#000" stroke-width="1.1" stroke-linejoin="miter" stroke-miterlimit="8"/>
<circle cx="598.4" cy="669.5" r="9.85" fill="#f6c47a" stroke="#000" stroke-width="1.1"/><circle cx="598.4" cy="669.5" r="7.3" fill="none" stroke="#000" stroke-width="1.05"/>
<polygon points="597.55,664.70 599.25,664.70 599.25,668.65 603.20,668.65 603.20,670.35 599.25,670.35 599.25,674.30 597.55,674.30 597.55,670.35 593.60,670.35 593.60,668.65 597.55,668.65" fill="none" stroke="#000" stroke-width="1.1" stroke-linejoin="miter" stroke-miterlimit="8"/>
<circle cx="665.6" cy="669.5" r="9.85" fill="#f6c47a" stroke="#000" stroke-width="1.1" stroke-dasharray="3.6 2.59" stroke-dashoffset="1.8"/><circle cx="665.6" cy="669.5" r="7.3" fill="none" stroke="#000" stroke-width="1.05" stroke-dasharray="3.1 2.63" stroke-dashoffset="1.55"/>
<polygon points="664.75,664.70 666.45,664.70 666.45,668.65 670.40,668.65 670.40,670.35 666.45,670.35 666.45,674.30 664.75,674.30 664.75,670.35 660.80,670.35 660.80,668.65 664.75,668.65" fill="none" stroke="#000" stroke-width="1.1" stroke-linejoin="miter" stroke-miterlimit="8"/>
<circle cx="801.5" cy="718.7" r="9.7" fill="#f27b7b" stroke="#000" stroke-width="3"/>
<circle cx="801.5" cy="718.7" r="5.1" fill="#000"/>
</svg>
</body></html>
